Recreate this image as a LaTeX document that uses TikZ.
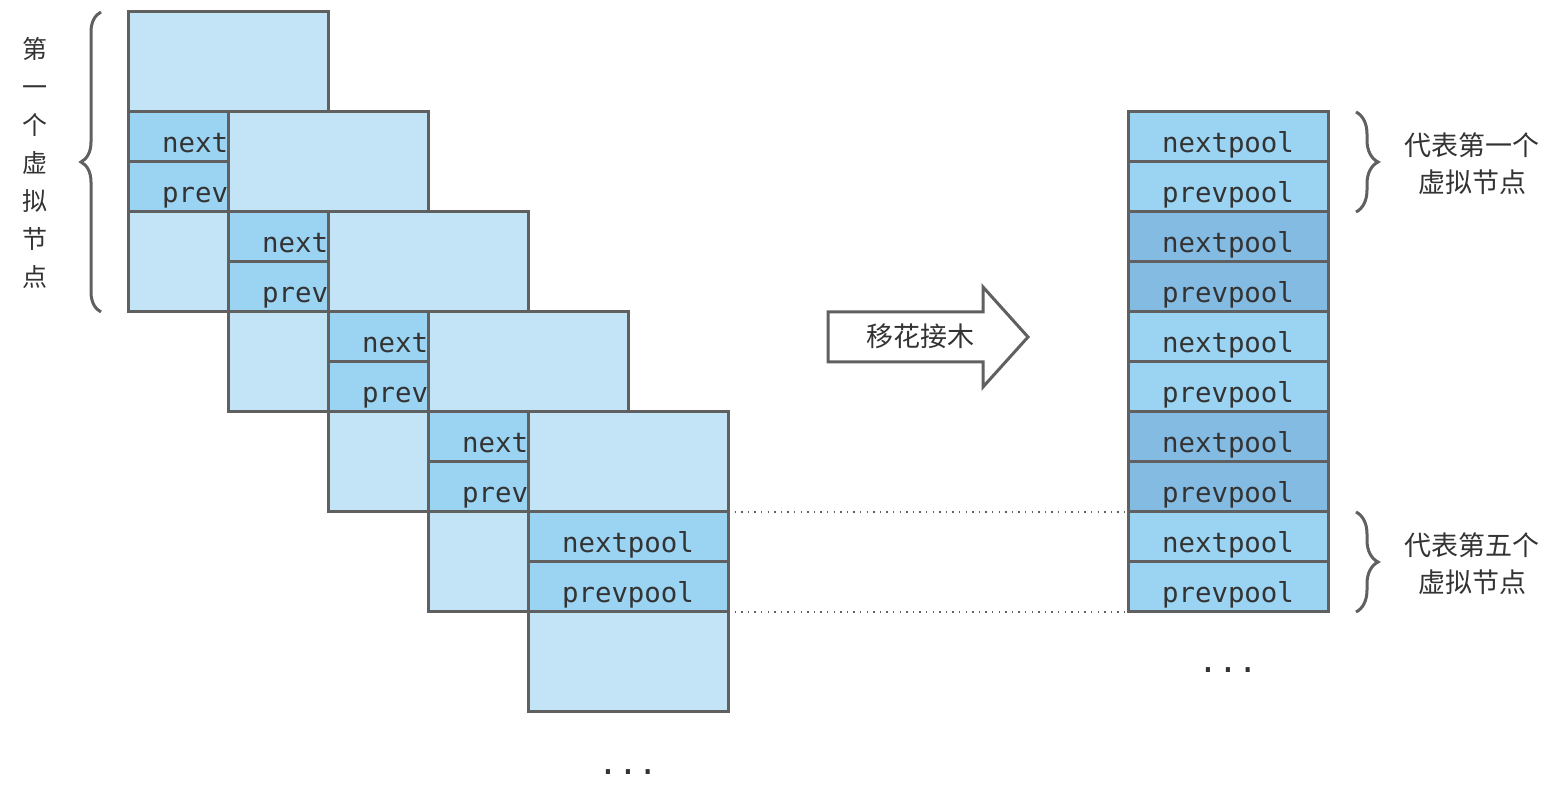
\documentclass[tikz,border=0pt]{standalone}
\usepackage{fontspec}
\setmonofont{DejaVu Sans Mono}
\newfontfamily\cjk{Noto Sans CJK SC}
\usetikzlibrary{decorations.pathreplacing,calc}
\definecolor{lightc}{HTML}{C3E4F6}
\definecolor{midc}{HTML}{9BD3F2}
\definecolor{darkc}{HTML}{84BBE3}
\definecolor{bordc}{HTML}{606060}
\definecolor{txtc}{HTML}{333333}
\tikzset{
  cell/.style={draw=bordc, line width=1.5pt, minimum width=100pt, minimum height=25pt,
    inner sep=0pt, outer sep=0pt, anchor=north west, text=txtc,
    text height=16pt, text depth=0pt,
    font=\ttfamily\fontsize{13.7}{14}\selectfont},
  mybrace/.style={draw=bordc, line width=1.5pt, decorate,
    decoration={brace, amplitude=#1}},
  cjklabel/.style={text=txtc, font=\cjk\fontsize{13.5}{18.5}\selectfont, align=center, inner sep=0pt},
  dotted line/.style={draw=bordc, line width=0.7pt, dash pattern=on 0.7pt off 2.6pt},
  ellipsis/.style={text=txtc, font=\ttfamily\fontsize{16.5}{17}\selectfont, inner sep=0pt},
}
\begin{document}
\begin{tikzpicture}[x=0.5pt,y=-0.5pt]
\useasboundingbox (0,0) rectangle (1559,795);
% left stack of five overlapping blocks
\foreach \i in {0,...,4}{
  \pgfmathsetmacro\bx{128+100*\i}
  \pgfmathsetmacro\by{12+100*\i}
  \node[cell, fill=lightc, minimum height=50pt] (b\i-top) at (\bx,\by) {};
  \node[cell, fill=midc] (b\i-next) at (\bx,\by+100) {nextpool};
  \node[cell, fill=midc] (b\i-prev) at (\bx,\by+150) {prevpool};
  \node[cell, fill=lightc, minimum height=50pt] (b\i-bot) at (\bx,\by+200) {};
}
% right stack
\foreach \j/\f/\t in {0/midc/nextpool,1/midc/prevpool,2/darkc/nextpool,3/darkc/prevpool,
  4/midc/nextpool,5/midc/prevpool,6/darkc/nextpool,7/darkc/prevpool,8/midc/nextpool,9/midc/prevpool}{
  \node[cell, fill=\f] (r\j) at (1128,112+50*\j) {\t};
}
% dotted guide lines
\draw[dotted line] (b4-next.north east) -- (r8.north west);
\draw[dotted line] (b4-prev.south east) -- (r9.south west);
% arrow
\draw[draw=bordc, fill=white, line width=1.5pt, line join=miter]
  (828,312) -- (983,312) -- (983,287) -- (1028,337) -- (983,387) -- (983,362) -- (828,362) -- cycle;
\node[cjklabel] (graft) at (920,336) {移花接木};
% braces
\coordinate (lb1) at (101,312);
\coordinate (lb2) at (101,12);
\draw[mybrace=10pt] (lb1) -- (lb2);
\node[cjklabel, font=\cjk\fontsize{12.5}{19}\selectfont] (vlabel) at (35,163) {第\\一\\个\\虚\\拟\\节\\点};
\draw[mybrace=11pt] ($(r0.north east)+(28,0)$) -- ($(r1.south east)+(28,0)$);
\node[cjklabel] (lab1) at (1472,164) {代表第一个\\虚拟节点};
\draw[mybrace=11pt] ($(r8.north east)+(28,0)$) -- ($(r9.south east)+(28,0)$);
\node[cjklabel] (lab5) at (1472,564) {代表第五个\\虚拟节点};
% ellipses
\node[ellipsis] (dots1) at (628,772) {...};
\node[ellipsis] (dots2) at (1228,670) {...};
\end{tikzpicture}
\end{document}
